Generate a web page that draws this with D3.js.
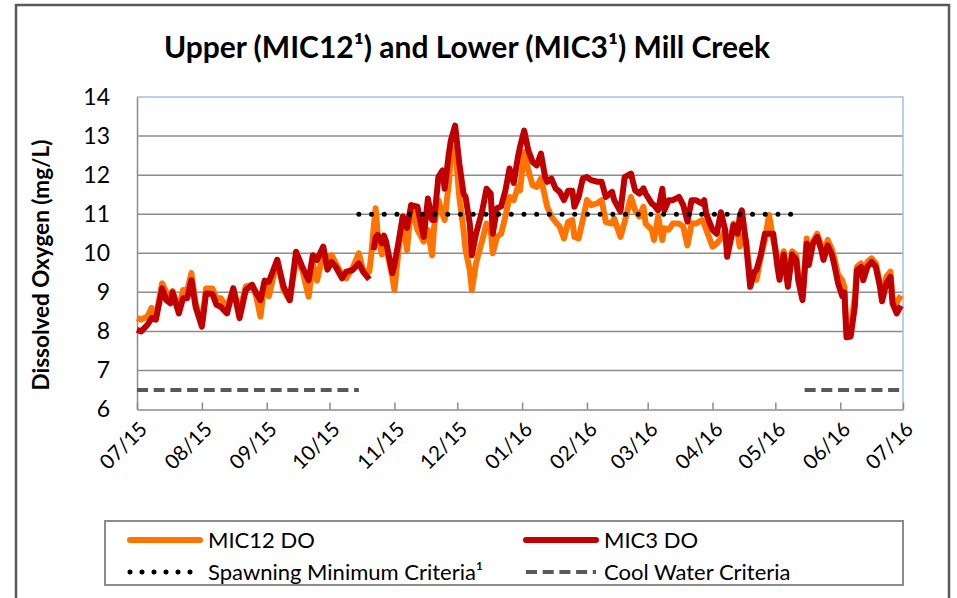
<!DOCTYPE html>
<html>
<head>
<meta charset="utf-8">
<script src="https://cdn.jsdelivr.net/npm/d3@7"></script>
<style>
  body { margin: 0; background: #fff; }
  text { font-family: Lato, "Open Sans", sans-serif; fill: #000; }
</style>
</head>
<body>
<svg id="chart"></svg>
<script>
//// DATA

// sample dates
const dates = [
  "2015-07-01","2015-07-03","2015-07-06","2015-07-08","2015-07-10","2015-07-13","2015-07-15","2015-07-17","2015-07-18","2015-07-21",
  "2015-07-23","2015-07-25","2015-07-27","2015-07-29","2015-08-01","2015-08-03","2015-08-06","2015-08-08","2015-08-10","2015-08-13",
  "2015-08-16","2015-08-19","2015-08-22","2015-08-25","2015-08-27","2015-08-29","2015-08-31","2015-09-02","2015-09-06","2015-09-09",
  "2015-09-12","2015-09-15","2015-09-18","2015-09-21","2015-09-23","2015-09-25","2015-09-28","2015-09-30","2015-10-02","2015-10-04",
  "2015-10-07","2015-10-09","2015-10-12","2015-10-15","2015-10-17","2015-10-20","2015-10-21","2015-10-22","2015-10-23","2015-10-24",
  "2015-10-26","2015-10-27","2015-10-28","2015-10-31","2015-11-01","2015-11-03","2015-11-05","2015-11-07","2015-11-09","2015-11-12",
  "2015-11-15","2015-11-17","2015-11-19","2015-11-20","2015-11-22","2015-11-24","2015-11-25","2015-11-27","2015-11-28","2015-11-30",
  "2015-12-02","2015-12-04","2015-12-05","2015-12-07","2015-12-08","2015-12-10","2015-12-13","2015-12-15","2015-12-17","2015-12-18",
  "2015-12-20","2015-12-22","2015-12-24","2015-12-26","2015-12-28","2015-12-30","2015-12-31","2016-01-02","2016-01-04","2016-01-06",
  "2016-01-08","2016-01-10","2016-01-12","2016-01-13","2016-01-15","2016-01-17","2016-01-19","2016-01-21","2016-01-23","2016-01-25",
  "2016-01-26","2016-01-28","2016-01-30","2016-02-01","2016-02-03","2016-02-06","2016-02-08","2016-02-10","2016-02-13","2016-02-14",
  "2016-02-17","2016-02-19","2016-02-22","2016-02-24","2016-02-26","2016-02-28","2016-02-29","2016-03-03","2016-03-04","2016-03-06",
  "2016-03-08","2016-03-09","2016-03-11","2016-03-13","2016-03-16","2016-03-18","2016-03-20","2016-03-22","2016-03-24","2016-03-27",
  "2016-03-28","2016-03-29","2016-04-01","2016-04-03","2016-04-05","2016-04-07","2016-04-08","2016-04-10","2016-04-11","2016-04-13",
  "2016-04-14","2016-04-15","2016-04-17","2016-04-19","2016-04-21","2016-04-22","2016-04-24","2016-04-26","2016-04-28","2016-04-30",
  "2016-05-02","2016-05-03","2016-05-05","2016-05-07","2016-05-09","2016-05-11","2016-05-12","2016-05-14","2016-05-16","2016-05-17",
  "2016-05-19","2016-05-21","2016-05-23","2016-05-24","2016-05-26","2016-05-28","2016-05-29","2016-05-31","2016-06-02","2016-06-03",
  "2016-06-04","2016-06-06","2016-06-08","2016-06-09","2016-06-11","2016-06-12","2016-06-14","2016-06-16","2016-06-18","2016-06-20",
  "2016-06-21","2016-06-23","2016-06-25","2016-06-26","2016-06-28","2016-06-30"
];

// MIC12 DO (upper, orange)
const mic12 = [
  8.34,8.3,8.38,8.6,8.34,9.23,9.0,8.9,9.03,8.55,
  9.06,9.06,9.49,8.72,8.2,9.1,9.1,8.85,8.85,8.6,
  9.1,8.5,9.15,9.19,8.89,8.38,9.27,8.9,9.83,9.06,
  8.8,9.87,9.57,8.89,9.74,9.3,10.0,9.87,9.95,9.74,
  9.45,9.36,9.62,10.0,9.57,9.53,10.0,10.6,11.15,10.5,
  9.97,10.3,10.17,9.4,9.06,10.1,10.94,10.08,11.23,10.6,
  10.3,10.6,9.95,10.7,11.36,11.0,10.85,11.8,12.5,12.7,
  11.44,10.6,10.08,9.57,9.06,9.75,10.34,10.76,10.6,10.0,
  10.42,10.5,10.94,11.44,11.36,11.7,11.61,12.59,12.12,11.74,
  11.7,11.91,11.44,11.19,10.94,10.8,10.68,10.38,10.8,10.85,
  10.42,10.38,10.85,11.36,11.23,11.28,11.36,10.8,10.76,10.89,
  10.42,10.8,11.44,11.1,10.94,11.19,10.76,10.6,10.34,10.94,
  10.34,10.64,10.6,10.76,10.76,10.68,10.2,10.76,10.76,10.85,
  10.76,10.6,10.17,10.25,10.38,10.6,10.17,10.42,10.76,10.5,
  10.17,10.42,10.34,9.4,9.4,9.32,9.9,10.34,10.98,10.34,
  9.9,9.45,10.05,9.3,10.05,9.95,9.4,8.9,10.38,9.83,
  10.3,10.5,10.2,9.95,10.34,10.1,9.91,9.45,9.3,9.14,
  8.02,8.02,8.9,9.65,9.74,9.45,9.78,9.87,9.74,9.23,
  8.85,9.4,9.53,8.85,8.73,8.92
];

// MIC3 DO (lower, dark red) - null = no data
const mic3 = [
  8.04,8.0,8.17,8.34,8.3,9.1,8.8,8.72,9.0,8.46,
  8.85,8.85,9.31,8.63,8.12,8.97,8.96,8.68,8.63,8.46,
  9.1,8.34,9.06,9.19,8.98,8.8,9.3,9.27,9.83,9.15,
  8.8,10.04,9.65,9.31,9.95,9.83,10.17,9.58,9.78,9.65,
  9.36,9.53,9.57,9.74,9.53,9.33,null,10.08,10.4,10.47,
  10.25,10.45,10.3,9.49,9.7,10.3,10.94,10.65,11.23,11.19,
  10.42,11.4,10.85,10.85,11.95,12.12,11.65,12.55,12.9,13.27,
  12.3,11.53,11.44,10.76,9.95,10.5,11.1,11.65,11.53,10.5,
  11.15,11.2,11.6,12.17,11.8,12.46,12.72,13.14,12.63,12.34,
  12.25,12.55,11.95,11.83,11.91,11.66,11.57,11.36,11.6,11.6,
  11.19,11.44,11.91,11.95,11.87,11.83,11.83,11.44,11.57,11.36,
  11.07,11.95,12.04,11.61,11.53,11.66,11.53,11.27,11.23,11.1,
  11.65,11.1,11.36,11.36,11.44,11.23,10.81,11.36,11.36,11.27,
  11.36,11.0,10.6,10.5,11.05,10.6,9.91,10.42,10.72,10.5,
  10.94,11.1,10.25,9.14,9.53,9.57,9.95,10.5,10.5,10.5,
  9.66,9.32,9.97,9.14,9.97,9.83,9.29,8.8,10.25,9.7,
  10.25,10.42,10.08,9.83,10.2,9.97,9.75,9.23,8.9,9.0,
  7.85,7.87,8.64,9.57,9.65,9.31,9.65,9.78,9.65,9.14,
  8.77,9.23,9.4,8.72,8.46,8.66
];

// criteria lines
const spawningValue = 11;
const spawningPeriod = ["2015-10-15", "2016-05-09"];
const coolWaterValue = 6.5;
const coolWaterPeriods = [["2015-07-01", "2015-10-15"], ["2016-05-15", "2016-07-01"]];

const yTicks = [6, 7, 8, 9, 10, 11, 12, 13, 14];
const xDomain = ["2015-07-01", "2016-07-01"];

const colors = { mic12: "#ff7300", mic3: "#c00000", spawn: "#000", cool: "#595959" };

//// SETUP
const width = 957, height = 598;
const plot = { left: 137, right: 903, top: 97, bottom: 409.5 };
const parse = d3.timeParse("%Y-%m-%d");

const svg = d3.select("#chart").attr("width", width).attr("height", height);

const x = d3.scaleTime().domain(xDomain.map(parse)).range([plot.left, plot.right]);
const y = d3.scaleLinear().domain([6, 14]).range([plot.bottom, plot.top]);

// outer chart frame
svg.append("rect")
  .attr("x", 16).attr("y", 5)
  .attr("width", 933).attr("height", 620)
  .attr("fill", "#fff")
  .attr("stroke", "#595959").attr("stroke-width", 2.5);

// title
svg.append("text")
  .attr("x", 467).attr("y", 58)
  .attr("text-anchor", "middle")
  .style("font-size", "30px").style("font-weight", "bold")
  .text("Upper (MIC12\u00B9) and Lower (MIC3\u00B9) Mill Creek");

// gridlines
svg.append("g")
  .selectAll("line")
  .data(yTicks.filter(d => d > 6 && d < 14))
  .join("line")
  .attr("x1", plot.left).attr("x2", plot.right)
  .attr("y1", d => y(d)).attr("y2", d => y(d))
  .attr("stroke", "#8c8c8c").attr("stroke-width", 1.5);

// top/right plot border (light blue)
svg.append("path")
  .attr("d", `M${plot.left},${y(14)}H${plot.right}V${plot.bottom}`)
  .attr("fill", "none").attr("stroke", "#a7bde3").attr("stroke-width", 1.5);

// y axis
const yAxis = svg.append("g")
  .attr("transform", `translate(${plot.left},0)`)
  .call(d3.axisLeft(y).tickValues(yTicks).tickSize(0).tickPadding(27));
yAxis.select(".domain").attr("stroke", "#8c8c8c").attr("stroke-width", 1.5);
yAxis.selectAll("text").style("font-size", "23px").style("font-family", "Lato, sans-serif");

// x axis
const xAxis = svg.append("g")
  .attr("transform", `translate(0,${plot.bottom})`)
  .call(d3.axisBottom(x)
    .ticks(d3.timeMonth.every(1))
    .tickFormat(d3.timeFormat("%m/%y"))
    .tickSizeInner(-7).tickSizeOuter(0));
xAxis.select(".domain").attr("stroke", "#8c8c8c").attr("stroke-width", 1.5);
xAxis.selectAll(".tick line").attr("stroke", "#8c8c8c").attr("stroke-width", 1.5);
xAxis.selectAll("text")
  .attr("x", 0).attr("y", 0).attr("dy", 0)
  .attr("text-anchor", "end")
  .attr("transform", "translate(11,21) rotate(-45)")
  .style("font-size", "20.5px").style("font-family", "Lato, sans-serif");

// y axis title
svg.append("text")
  .attr("transform", "translate(49,265) rotate(-90)")
  .attr("text-anchor", "middle")
  .style("font-size", "22.5px").style("font-weight", "bold")
  .text("Dissolved Oxygen (mg/L)");

// criteria
const hline = (from, to, v) => `M${x(parse(from))},${y(v)}H${x(parse(to))}`;

svg.append("g")
  .selectAll("path")
  .data(coolWaterPeriods)
  .join("path")
  .attr("d", d => hline(d[0], d[1], coolWaterValue))
  .attr("stroke", colors.cool).attr("stroke-width", 4)
  .attr("stroke-dasharray", "11 5.7").attr("fill", "none");

// series
const rows = dates.map((d, i) => ({ date: parse(d), mic12: mic12[i], mic3: mic3[i] }));

const lineFor = key => d3.line()
  .defined(d => d[key] != null)
  .x(d => x(d.date))
  .y(d => y(d[key]));

svg.append("path")
  .datum(rows)
  .attr("d", lineFor("mic12"))
  .attr("fill", "none").attr("stroke", colors.mic12)
  .attr("stroke-width", 6).attr("stroke-linejoin", "round");

svg.append("path")
  .datum(rows)
  .attr("d", lineFor("mic3"))
  .attr("fill", "none").attr("stroke", colors.mic3)
  .attr("stroke-width", 6).attr("stroke-linejoin", "round");

svg.append("path")
  .attr("d", hline(spawningPeriod[0], spawningPeriod[1], spawningValue))
  .attr("stroke", colors.spawn).attr("stroke-width", 5)
  .attr("stroke-linecap", "round")
  .attr("stroke-dasharray", "0 12.7").attr("fill", "none");

//// LEGEND
const legend = svg.append("g");
legend.append("rect")
  .attr("x", 105).attr("y", 521).attr("width", 798).attr("height", 64)
  .attr("fill", "#fff").attr("stroke", "#8c8c8c").attr("stroke-width", 2);

const legendItems = [
  { label: "MIC12 DO", color: colors.mic12, dash: null, width: 6, cap: "round", col: 0, row: 0 },
  { label: "MIC3 DO", color: colors.mic3, dash: null, width: 6, cap: "round", col: 1, row: 0 },
  { label: "Spawning Minimum Criteria\u00B9", color: colors.spawn, dash: "0 12", width: 5, cap: "round", col: 0, row: 1 },
  { label: "Cool Water Criteria", color: colors.cool, dash: "11 5.7", width: 4, cap: "butt", col: 1, row: 1 }
];

const item = legend.selectAll(".item")
  .data(legendItems)
  .join("g")
  .attr("class", "item")
  .attr("transform", d => `translate(${d.col ? 524 : 128},${d.row ? 572 : 540})`);

item.append("line")
  .attr("x1", 2).attr("x2", 72)
  .attr("stroke", d => d.color).attr("stroke-width", d => d.width)
  .attr("stroke-linecap", d => d.cap)
  .attr("stroke-dasharray", d => d.dash);

item.append("text")
  .attr("x", 80).attr("y", 7.5)
  .style("font-size", "22px")
  .text(d => d.label);
</script>
</body>
</html>
